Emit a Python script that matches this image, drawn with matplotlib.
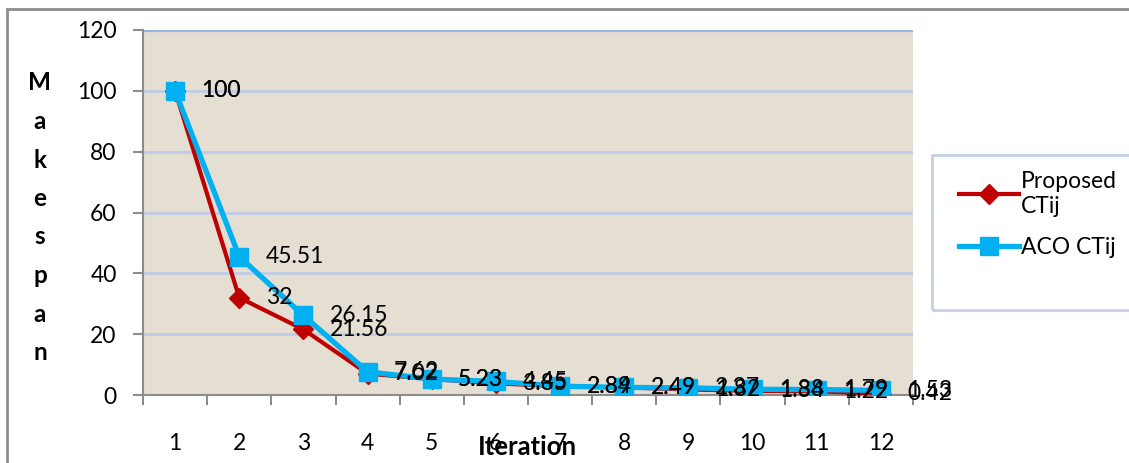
import matplotlib.pyplot as plt
import numpy as np
from matplotlib.patches import Rectangle
from matplotlib.lines import Line2D

# data
iterations = [1, 2, 3, 4, 5, 6, 7, 8, 9, 10, 11, 12]
proposed = [100, 32, 21.56, 7.02, 5.23, 3.85, 2.84, 2.49, 1.82, 1.34, 1.22, 0.42]
aco = [100, 45.51, 26.15, 7.62, 5.23, 4.45, 2.89, 2.49, 2.37, 1.88, 1.79, 1.53]
yticks = [0, 20, 40, 60, 80, 100, 120]

plt.rcParams['font.family'] = ['Lato', 'DejaVu Sans']

W, H = 1129, 463
fig = plt.figure(figsize=(W / 100, H / 100), dpi=100)
fig.patch.set_facecolor('white')

# outer chart border
fig.patches.append(Rectangle((7 / W, -0.05), 1.2, (H - 9) / H + 0.05, transform=fig.transFigure,
                             fill=False, edgecolor='#8c8c8c', linewidth=2))

ax = fig.add_axes([143 / W, 1 - 395 / H, (913 - 143) / W, (395 - 30) / H])
ax.set_facecolor('#e4ded3')

red = '#c00000'
blue = '#00b0f0'
x = np.array(iterations)
ax.plot(x, proposed, color=red, lw=3, marker='D', ms=10, mec=red, mfc=red, zorder=3)
ax.plot(x, aco, color=blue, lw=3.8, marker='s', ms=13, mec=blue, mfc=blue, zorder=4)

for xi, v in zip(x, proposed):
    ax.annotate('%g' % v, (xi, v), xytext=(19, 0), textcoords='offset points',
                ha='left', va='center', fontsize=16.5, color='black', zorder=5)
for xi, v in zip(x, aco):
    ax.annotate('%g' % v, (xi, v), xytext=(19, 0), textcoords='offset points',
                ha='left', va='center', fontsize=16.5, color='black', zorder=5)

ax.set_xlim(0.5, 12.5)
ax.set_ylim(0, 120)

# gridlines
for yt in yticks[1:-1]:
    ax.axhline(yt, color='#bfcde8', lw=2, zorder=1)
ax.axhline(120, color='#98b4e0', lw=3, zorder=1)

ax.set_yticks(yticks)
ax.set_yticklabels([str(t) for t in yticks], fontsize=16.5)
ax.tick_params(axis='y', direction='out', length=7, width=1.5, color='#8c8c8c', pad=12)

ax.set_xticks(np.arange(0.5, 13, 1))
ax.set_xticklabels([])
ax.tick_params(axis='x', which='major', direction='out', length=7, width=1.5, color='#8c8c8c')
ax.set_xticks(x, minor=True)
ax.set_xticklabels([str(i) for i in iterations], minor=True, fontsize=16.5)
ax.tick_params(axis='x', which='minor', length=0, pad=27)

for s in ['top', 'right']:
    ax.spines[s].set_visible(False)
for s in ['left', 'bottom']:
    ax.spines[s].set_color('#8c8c8c')
    ax.spines[s].set_linewidth(1.5)

# stacked y-axis title
for i, ch in enumerate('Makespan'):
    fig.text(40 / W, 1 - (83 + i * 38.5) / H, ch, ha='center', va='center',
             fontsize=17.5, fontweight='bold')

fig.text(527 / W, 1 - 447 / H, 'Iteration', ha='center', va='center',
         fontsize=18.5, fontweight='bold')

# legend box
fig.patches.append(Rectangle((932 / W, 1 - 310 / H), 0.3, 155 / H, transform=fig.transFigure,
                             fill=False, edgecolor='#c3d0e6', linewidth=2))
handles = [Line2D([], [], color=red, lw=3, marker='D', ms=10),
           Line2D([], [], color=blue, lw=3.8, marker='s', ms=13)]
fig.legend(handles, ['Proposed\nCTij', 'ACO CTij'], loc='upper left',
           bbox_to_anchor=(950 / W, 1 - 162 / H), frameon=False, fontsize=16.5,
           handlelength=2.6, handletextpad=0.1, labelspacing=0.9, borderaxespad=0)

fig.savefig('out.png', dpi=100)
